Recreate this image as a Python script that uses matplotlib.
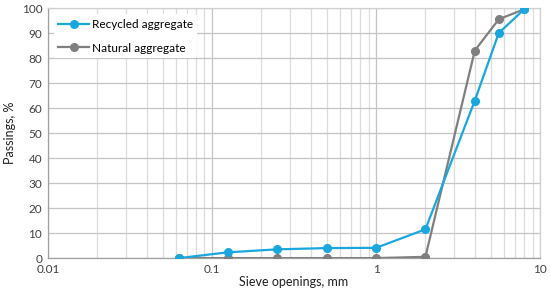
import matplotlib
matplotlib.use("Agg")
import matplotlib.pyplot as plt
from matplotlib.ticker import LogLocator, FixedLocator, NullFormatter, FixedFormatter

plt.rcParams['font.family'] = ['Lato', 'DejaVu Sans']

sieve = [0.063, 0.125, 0.25, 0.5, 1, 2, 4, 5.6, 8]
recycled = [0, 2.3, 3.5, 4.0, 4.1, 11.5, 63, 90, 99.5]
natural = [0, 0, 0, 0, 0, 0.5, 83, 95.5, 99.5]
xtick_vals = [0.01, 0.1, 1, 10]
xtick_labels = ['0.01', '0.1', '1', '10']

fig = plt.figure(figsize=(5.5, 2.97), dpi=100)
ax = fig.add_axes([0.087, 0.131, 0.895, 0.842])

ax.plot(sieve, recycled, color='#19A7DE', lw=1.6, marker='o', ms=5.5, label='Recycled aggregate', zorder=4)
ax.plot(sieve, natural, color='#7F7F7F', lw=1.6, marker='o', ms=5.5, label='Natural aggregate', zorder=3)

ax.set_xscale('log')
ax.set_xlim(0.01, 10)
ax.set_ylim(0, 100)
ax.set_yticks(range(0, 101, 10))
ax.xaxis.set_major_locator(FixedLocator(xtick_vals))
ax.xaxis.set_major_formatter(FixedFormatter(xtick_labels))
ax.xaxis.set_minor_locator(LogLocator(base=10, subs=range(2, 10)))
ax.xaxis.set_minor_formatter(NullFormatter())

ax.grid(True, which='major', axis='both', color='#C4C4C4', lw=0.9, zorder=0)
ax.grid(True, which='minor', axis='x', color='#DCDCDC', lw=0.9, zorder=0)
ax.set_axisbelow(True)

for s in ['top', 'right']:
    ax.spines[s].set_color('#D0D0D0')
    ax.spines[s].set_linewidth(0.9)
for s in ['left', 'bottom']:
    ax.spines[s].set_color('#A0A0A0')
    ax.spines[s].set_linewidth(0.9)

ax.tick_params(axis='both', which='both', length=0, labelsize=8.5, colors='#404040', pad=4)
ax.set_xlabel('Sieve openings, mm', fontsize=9, color='#202020', labelpad=1)
ax.set_ylabel('Passings, %', fontsize=9, color='#202020', labelpad=4)

leg = ax.legend(loc='upper left', frameon=True, fontsize=8.5, handlelength=2.6,
                borderaxespad=0.5, labelspacing=1.1, handletextpad=0.2)
leg.get_frame().set_facecolor('white')
leg.get_frame().set_edgecolor('none')
leg.get_frame().set_alpha(1)

fig.savefig('out.png', dpi=100)
